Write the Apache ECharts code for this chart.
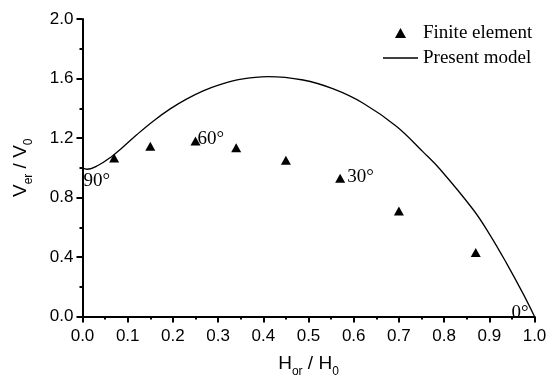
<!DOCTYPE html>
<html>
<head>
<meta charset="utf-8">
<script src="https://cdn.jsdelivr.net/npm/echarts@6/dist/echarts.min.js"></script>
<style>html,body{margin:0;padding:0;background:#fff}#c{width:547px;height:376px}</style>
</head>
<body>
<div id="c"></div>
<script>
// Finite element results
const feX = [0.07, 0.15, 0.25, 0.34, 0.45, 0.57, 0.70, 0.87];
const feY = [1.065, 1.145, 1.18, 1.135, 1.05, 0.93, 0.71, 0.43];
// Present model curve
const modelX = [0, 0.01, 0.034, 0.064, 0.086, 0.12, 0.157, 0.194, 0.231, 0.267, 0.304, 0.348, 0.41, 0.488, 0.555, 0.621, 0.695, 0.754, 0.791, 0.865, 0.902, 0.938, 0.975, 1.0];
const modelY = [1.0, 0.99, 1.015, 1.074, 1.13, 1.222, 1.315, 1.396, 1.463, 1.517, 1.559, 1.594, 1.613, 1.59, 1.53, 1.434, 1.278, 1.105, 0.99, 0.716, 0.546, 0.359, 0.152, 0.0];
// Angle annotations
const angleText = ['90°', '60°', '30°', '0°'];
const angleX = [0, 0.25, 0.57, 1.0];
const angleY = [1.0, 1.18, 0.93, 0.0];
// Axis ticks
const xTicks = {min: 0, max: 1, step: 0.1};
const yTicks = {min: 0, max: 2, step: 0.4};

const serif = 'Liberation Serif';
const sans = 'Liberation Sans';
const labelOffsets = [[1, 13, 'left'], [2, -2, 'left'], [7, -1, 'left'], [-6, -3, 'right']];

const nameRich = {
  m: {fontFamily: sans, fontSize: 19, color: '#000', verticalAlign: 'bottom'},
  s: {fontFamily: sans, fontSize: 12, color: '#000', verticalAlign: 'bottom', padding: [0, 0, -4, 0]}
};

const chart = echarts.init(document.getElementById('c'));
chart.setOption({
  animation: false,
  backgroundColor: '#fff',
  grid: {left: 82.5, right: 12.5, top: 19, bottom: 59.5, containLabel: false, outerBoundsMode: 'none'},
  legend: {
    orient: 'vertical', left: 378, top: 18, itemWidth: 35, itemHeight: 10, itemGap: 5,
    textStyle: {fontFamily: serif, fontSize: 19, color: '#000', lineHeight: 20},
    data: [
      {name: 'Finite element', icon: 'path://M5,0L10,9L0,9Z'},
      {name: 'Present model', icon: 'path://M0,0L35,0L35,1.3L0,1.3Z'}
    ]
  },
  xAxis: {
    type: 'value', min: xTicks.min, max: xTicks.max, interval: xTicks.step,
    name: '{m|H}{s|or}{m| / H}{s|0}', nameLocation: 'middle', nameGap: 38,
    nameTextStyle: {rich: nameRich},
    axisLine: {onZero: false, lineStyle: {color: '#000', width: 2}},
    axisTick: {show: true, inside: false, length: 6, lineStyle: {color: '#000', width: 2}},
    minorTick: {show: true, splitNumber: 2, length: 3, lineStyle: {color: '#000', width: 2}},
    axisLabel: {fontFamily: sans, fontSize: 17, color: '#000', margin: 11, formatter: v => v.toFixed(1)},
    splitLine: {show: false}
  },
  yAxis: {
    type: 'value', min: yTicks.min, max: yTicks.max, interval: yTicks.step,
    name: '{m|V}{s|er}{m| / V}{s|0}', nameLocation: 'middle', nameGap: 52, nameRotate: 90,
    nameTextStyle: {rich: nameRich},
    axisLine: {onZero: false, lineStyle: {color: '#000', width: 2}},
    axisTick: {show: true, inside: false, length: 6, lineStyle: {color: '#000', width: 2}},
    minorTick: {show: true, splitNumber: 2, length: 3, lineStyle: {color: '#000', width: 2}},
    axisLabel: {fontFamily: sans, fontSize: 17, color: '#000', margin: 9, formatter: v => v.toFixed(1)},
    splitLine: {show: false}
  },
  series: [
    {
      name: 'Finite element', type: 'scatter', symbol: 'triangle', symbolSize: [10, 9],
      itemStyle: {color: '#000', opacity: 1},
      data: feX.map((x, i) => [x, feY[i]]), z: 3
    },
    {
      name: 'Present model', type: 'line', smooth: 0.4, showSymbol: false, symbol: 'none',
      lineStyle: {color: '#000', width: 1.3}, itemStyle: {color: '#000'},
      data: modelX.map((x, i) => [x, modelY[i]]), z: 2
    },
    {
      name: 'angles', type: 'scatter', symbol: 'circle', symbolSize: 0, silent: true,
      itemStyle: {opacity: 1, color: '#000'},
      data: angleX.map((x, i) => ({
        value: [x, angleY[i]],
        label: {show: true, position: 'inside', formatter: angleText[i], offset: [labelOffsets[i][0], labelOffsets[i][1]], align: labelOffsets[i][2], verticalAlign: 'middle', fontFamily: serif, fontSize: 19, color: '#000', opacity: 1}
      })), z: 4
    }
  ]
});
</script>
</body>
</html>
